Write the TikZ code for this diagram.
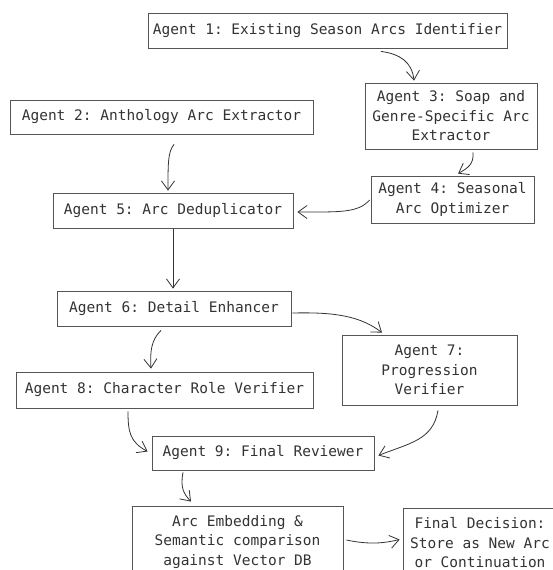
\documentclass[tikz,border=0pt]{standalone}
\usepackage{fontspec}
\setmonofont{DejaVu Sans Mono}
\usetikzlibrary{arrows.meta,calc}
\definecolor{boxline}{HTML}{555555}
\definecolor{txt}{HTML}{333333}
\definecolor{edgec}{HTML}{333333}
\begin{document}
\begin{tikzpicture}[x=1pt,y=-1pt,
  box/.style={draw=boxline,line width=0.8pt,fill=white,text=txt,align=center,inner sep=0pt,
    font=\ttfamily\fontsize{14.5}{19.5}\selectfont},
  conn/.style={draw=edgec,line width=0.8pt,-{Straight Barb[length=9pt,width=13pt,line width=0.8pt]}}]
\useasboundingbox (0,0) rectangle (553,570);
\clip (0,0) rectangle (553,570);
\node[box,minimum width=359pt,minimum height=35pt] (a1) at (327.5,30.5) {Agent 1: Existing Season Arcs Identifier};
\node[box,minimum width=303pt,minimum height=34pt] (a2) at (161.5,117) {Agent 2: Anthology Arc Extractor};
\node[box,minimum width=172pt,minimum height=66pt] (a3) at (451,116) {Agent 3: Soap and\\Genre-Specific Arc\\Extractor};
\node[box,minimum width=163pt,minimum height=47pt] (a4) at (452.5,199.5) {Agent 4: Seasonal\\Arc Optimizer};
\node[box,minimum width=240pt,minimum height=35pt] (a5) at (173,210.5) {Agent 5: Arc Deduplicator};
\node[box,minimum width=234pt,minimum height=35pt] (a6) at (174,308.5) {Agent 6: Detail Enhancer};
\node[box,minimum width=175pt,minimum height=70pt] (a7) at (429.5,370) {Agent 7:\\Progression\\Verifier};
\node[box,minimum width=297pt,minimum height=36pt] (a8) at (164.5,390) {Agent 8: Character Role Verifier};
\node[box,minimum width=222pt,minimum height=34pt] (a9) at (263,453) {Agent 9: Final Reviewer};
\node[box,minimum width=211pt,minimum height=72pt] (emb) at (237.5,542) {Arc Embedding \&\\Semantic comparison\\against Vector DB};
\node[box,minimum width=154pt,minimum height=70pt] (fin) at (480,543) {Final Decision:\\Store as New Arc\\or Continuation};

\draw[conn] ($(a1.south)+(53.5,3)$) .. controls (400,54) and (412,62) .. ($(a3.north)+(-37,-2)$);
\draw[conn] ($(a2.south)+(12.5,10)$) .. controls (168,152) and (168,162) .. ($(a5.north)+(-5,-2)$);
\draw[conn] ($(a3.south)+(22,3)$) .. controls (474,164) and (468,168) .. ($(a4.north)+(5.5,-2)$);
\draw[conn] ($(a4.west)+(-1,0.5)$) .. controls (358,213) and (340,212) .. ($(a5.east)+(4,1.5)$);
\draw[conn] ($(a5.south)+(0,1)$) -- ($(a6.north)+(-1,-2)$);
\draw[conn] ($(a6.east)+(1,4.5)$) .. controls (335,312) and (360,316) .. ($(a7.north)+(-47.5,-2)$);
\draw[conn] ($(a6.south)+(-13,4)$) .. controls (151,340) and (150,352) .. ($(a8.north)+(-13.5,-3)$);
\draw[conn] ($(a8.south)+(-36.5,3)$) .. controls (128,432) and (130,442) .. ($(a9.west)+(-4,-1.5)$);
\draw[conn] ($(a7.south)+(8.5,5)$) .. controls (433,440) and (410,443) .. ($(a9.east)+(4,2.5)$);
\draw[conn] ($(a9.south)+(-80,2)$) .. controls (180,488) and (184,494) .. ($(emb.north)+(-46.5,-4)$);
\draw[conn] ($(emb.east)+(3,-2)$) .. controls (370,545) and (385,543) .. ($(fin.west)+(-3,-3.5)$);
\end{tikzpicture}
\end{document}
